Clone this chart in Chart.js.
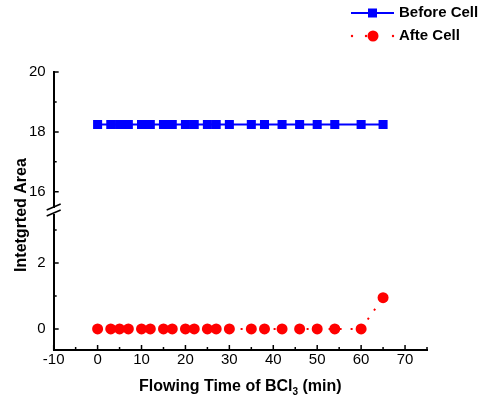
<!DOCTYPE html>
<html>
<head>
<meta charset="utf-8">
<script src="https://cdn.jsdelivr.net/npm/chart.js@4.4.1/dist/chart.umd.min.js"></script>
<style>
  html, body { margin: 0; padding: 0; background: #fff; }
</style>
</head>
<body>
<canvas id="chart" width="482" height="405"></canvas>
<script>
// values
const times = [0, 3, 5, 7, 10, 12, 15, 17, 20, 22, 25, 27, 30, 35, 38, 42, 46, 50, 54, 60, 65]
const beforeCell = [18.25, 18.25, 18.25, 18.25, 18.25, 18.25, 18.25, 18.25, 18.25, 18.25, 18.25,
                    18.25, 18.25, 18.25, 18.25, 18.25, 18.25, 18.25, 18.25, 18.25, 18.25]
const afterCell = [0, 0, 0, 0, 0, 0, 0, 0, 0, 0, 0, 0, 0, 0, 0, 0, 0, 0, 0, 0, 0.95]

const xTicks = [-10, 0, 10, 20, 30, 40, 50, 60, 70]
const xMinor = [-5, 5, 15, 25, 35, 45, 55, 65, 75]
const yTopTicks = [16, 18, 20]
const yTopMinor = [17, 19]
const yBotTicks = [0, 2]
const yBotMinor = [1, 3]

const FONT = "'Liberation Sans', Arial, sans-serif"
const BLUE = "#0000ff"
const RED = "#ff0000"

const toPoints = (ys) => times.map((t, i) => ({ x: t, y: ys[i] }))

// inward ticks, axis break and axis titles
const decor = {
  id: "decor",
  afterDraw(chart) {
    const ctx = chart.ctx
    const x = chart.scales.x
    const yt = chart.scales.yTop
    const yb = chart.scales.yBot
    const left = chart.chartArea.left
    const bottom = chart.chartArea.bottom

    ctx.save()
    ctx.strokeStyle = "#000"
    ctx.lineWidth = 1.5
    ctx.beginPath()
    xTicks.forEach((v) => { const px = x.getPixelForValue(v); ctx.moveTo(px, bottom); ctx.lineTo(px, bottom - 5) })
    xMinor.forEach((v) => { const px = x.getPixelForValue(v); ctx.moveTo(px, bottom); ctx.lineTo(px, bottom - 3) })
    yTopTicks.forEach((v) => { const py = yt.getPixelForValue(v); ctx.moveTo(left, py); ctx.lineTo(left + 5, py) })
    yTopMinor.forEach((v) => { const py = yt.getPixelForValue(v); ctx.moveTo(left, py); ctx.lineTo(left + 3, py) })
    yBotTicks.forEach((v) => { const py = yb.getPixelForValue(v); ctx.moveTo(left, py); ctx.lineTo(left + 5, py) })
    yBotMinor.forEach((v) => { const py = yb.getPixelForValue(v); ctx.moveTo(left, py); ctx.lineTo(left + 3, py) })
    ctx.stroke()

    // break marks
    const by = yt.bottom
    ctx.fillStyle = "#fff"
    ctx.fillRect(left - 2, by - 3, 4, 6)
    ctx.lineWidth = 1.5
    ctx.beginPath()
    ctx.moveTo(left - 7, by - 1); ctx.lineTo(left + 7, by - 7)
    ctx.moveTo(left - 7, by + 5); ctx.lineTo(left + 7, by - 1)
    ctx.stroke()

    // titles
    ctx.fillStyle = "#000"
    ctx.textBaseline = "middle"
    const main = "Flowing Time of BCl"
    const rest = " (min)"
    ctx.font = "bold 16px " + FONT
    const w1 = ctx.measureText(main).width
    const w3 = ctx.measureText(rest).width
    ctx.font = "bold 10px " + FONT
    const w2 = ctx.measureText("3").width
    const cx = (chart.chartArea.left + chart.chartArea.right) / 2
    const tx = cx - (w1 + w2 + w3) / 2
    const ty = 387
    ctx.textAlign = "left"
    ctx.font = "bold 16px " + FONT
    ctx.fillText(main, tx, ty)
    ctx.font = "bold 10px " + FONT
    ctx.fillText("3", tx + w1, ty + 5)
    ctx.font = "bold 16px " + FONT
    ctx.fillText(rest, tx + w1 + w2, ty)

    ctx.translate(22, (chart.chartArea.top + chart.chartArea.bottom) / 2 + 4)
    ctx.rotate(-Math.PI / 2)
    ctx.textAlign = "center"
    ctx.fillText("Intetgrted Area", 0, 0)
    ctx.restore()
  }
}

// legend drawn top right: line sample + marker + label
const legendBox = {
  id: "legendBox",
  afterDraw(chart) {
    const ctx = chart.ctx
    ctx.save()
    ctx.font = "bold 15px " + FONT
    ctx.textBaseline = "middle"

    // Before Cell
    ctx.strokeStyle = BLUE
    ctx.lineWidth = 2
    ctx.beginPath(); ctx.moveTo(351, 13); ctx.lineTo(394, 13); ctx.stroke()
    ctx.fillStyle = BLUE
    ctx.fillRect(368, 8.5, 9, 9)
    ctx.fillStyle = "#000"
    ctx.fillText("Before Cell", 399, 13)

    // Afte Cell
    ctx.fillStyle = RED
    ;[352, 366, 393].forEach((px) => { ctx.beginPath(); ctx.arc(px, 36, 1.2, 0, Math.PI * 2); ctx.fill() })
    ctx.beginPath(); ctx.arc(373, 36, 5.5, 0, Math.PI * 2); ctx.fill()
    ctx.fillStyle = "#000"
    ctx.fillText("Afte Cell", 399, 36)
    ctx.restore()
  }
}

const axisBase = {
  type: "linear",
  grid: { display: false, drawTicks: false },
  border: { display: true, color: "#000", width: 2 },
  ticks: { color: "#000", font: { family: FONT, size: 15 } }
}

new Chart(document.getElementById("chart").getContext("2d"), {
  type: "line",
  data: {
    datasets: [
      {
        label: "Before Cell",
        data: toPoints(beforeCell),
        yAxisID: "yTop",
        borderColor: BLUE,
        backgroundColor: BLUE,
        borderWidth: 2,
        pointStyle: "rect",
        pointRadius: 6.4,
        pointHoverRadius: 6.4,
        pointBorderWidth: 0
      },
      {
        label: "Afte Cell",
        data: toPoints(afterCell),
        yAxisID: "yBot",
        borderColor: RED,
        backgroundColor: RED,
        borderWidth: 2,
        borderDash: [2, 9],
        pointStyle: "circle",
        pointRadius: 5.5,
        pointHoverRadius: 5.5,
        pointBorderWidth: 0
      }
    ]
  },
  options: {
    responsive: false,
    animation: false,
    devicePixelRatio: 1,
    layout: { padding: { left: 21, right: 55, top: 72, bottom: 35 } },
    plugins: { legend: { display: false }, tooltip: { enabled: false } },
    scales: {
      x: {
        ...axisBase,
        position: "bottom",
        min: -10,
        max: 75,
        afterBuildTicks: (s) => { s.ticks = xTicks.map((v) => ({ value: v })) },
        ticks: { ...axisBase.ticks, padding: 1 }
      },
      // stacked scales are laid out bottom-up, so the lower segment comes first
      yBot: {
        ...axisBase,
        position: "left",
        stack: "y",
        stackWeight: 1,
        min: -0.64,
        max: 3.58,
        afterBuildTicks: (s) => { s.ticks = yBotTicks.map((v) => ({ value: v })) },
        ticks: { ...axisBase.ticks, padding: 8 }
      },
      yTop: {
        ...axisBase,
        position: "left",
        stack: "y",
        stackWeight: 1,
        min: 15.36,
        max: 20,
        afterBuildTicks: (s) => { s.ticks = yTopTicks.map((v) => ({ value: v })) },
        ticks: { ...axisBase.ticks, padding: 8 }
      }
    }
  },
  plugins: [decor, legendBox]
})
</script>
</body>
</html>
